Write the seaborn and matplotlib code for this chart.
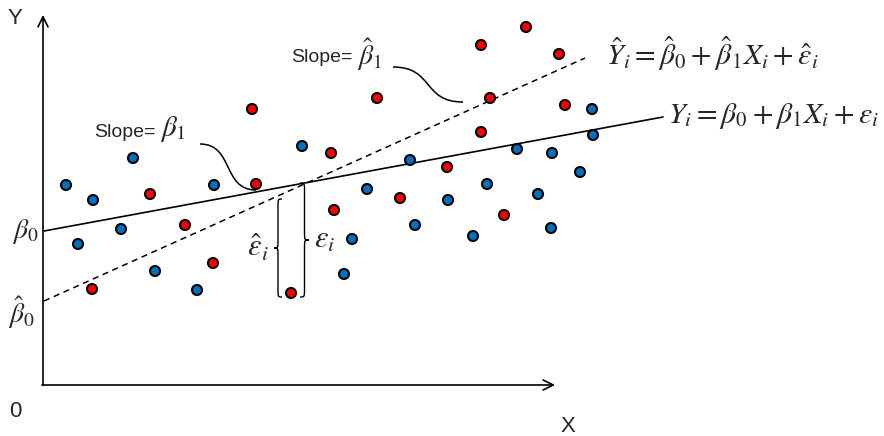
import numpy as np
import pandas as pd
import matplotlib
matplotlib.use("Agg")
import matplotlib.pyplot as plt
from matplotlib.path import Path
from matplotlib.patches import PathPatch
import seaborn as sns

# ---- data (diagram units: pixel-like, y grows downward) ----
blue_x = [66, 93, 133, 214, 78, 121, 155, 197, 302, 410, 367, 448, 487, 517,
          552, 580, 538, 592, 593, 352, 344, 415, 473, 551]
blue_y = [185, 200, 158, 185, 244, 229, 271, 290, 146, 160, 189, 200, 184, 149,
          153, 172, 194, 109, 135, 239, 274, 225, 236, 228]
red_x = [150, 256, 252, 185, 213, 92, 291, 331, 334, 377, 400, 447, 481, 490,
         481, 526, 559, 565, 504]
red_y = [194, 184, 109, 225, 263, 289, 293, 153, 210, 98, 198, 167, 132, 98,
         45, 27, 54, 105, 215]

true_line_x = [44, 663]
true_line_y = [231, 117]
fit_line_x = [44, 585]
fit_line_y = [301, 58]

axis_origin = (43, 385)
axis_x_end = 555
axis_y_end = 15

# ---- figure ----
sns.set_theme(style="white")
plt.rcParams['font.family'] = ['Liberation Sans', 'DejaVu Sans']
plt.rcParams['mathtext.fontset'] = 'stix'

fig = plt.figure(figsize=(8.84, 4.36), dpi=100)
ax = fig.add_axes([0, 0, 1, 1])
ax.set_xlim(0, 884)
ax.set_ylim(436, 0)
ax.axis('off')

# axes arrows
ax.annotate('', xy=(axis_x_end, axis_origin[1]), xytext=(axis_origin[0] - 1, axis_origin[1]),
            arrowprops=dict(arrowstyle='->', lw=1.2, color='black',
                            mutation_scale=18, shrinkA=0, shrinkB=0))
ax.annotate('', xy=(axis_origin[0], axis_y_end), xytext=(axis_origin[0], axis_origin[1] + 0.5),
            arrowprops=dict(arrowstyle='->', lw=1.2, color='black',
                            mutation_scale=18, shrinkA=0, shrinkB=0))

# regression lines
lines = pd.DataFrame({'x': true_line_x, 'y': true_line_y})
sns.lineplot(data=lines, x='x', y='y', ax=ax, color='black', lw=1.2)
fit = pd.DataFrame({'x': fit_line_x, 'y': fit_line_y})
sns.lineplot(data=fit, x='x', y='y', ax=ax, color='black', lw=1.1, linestyle=(0, (4, 3)))

# points
pts = pd.DataFrame({
    'x': blue_x + red_x,
    'y': blue_y + red_y,
    'group': ['blue'] * len(blue_x) + ['red'] * len(red_x),
})
sns.scatterplot(data=pts, x='x', y='y', hue='group', ax=ax,
                palette={'blue': '#0070C0', 'red': '#FF0000'},
                s=52, edgecolor='black', linewidth=1.5, legend=False, zorder=5)


def brace(x0, y0, y1, w, direction, r=8):
    xs = x0 + direction * w / 2
    xt = x0 + direction * w
    ym = (y0 + y1) / 2
    verts = [(x0, y0), (xs, y0), (xs, y0), (xs, y0 + r),
             (xs, ym - r),
             (xs, ym), (xs, ym), (xt, ym),
             (xs, ym), (xs, ym), (xs, ym + r),
             (xs, y1 - r),
             (xs, y1), (xs, y1), (x0, y1)]
    codes = [Path.MOVETO, Path.CURVE4, Path.CURVE4, Path.CURVE4,
             Path.LINETO,
             Path.CURVE4, Path.CURVE4, Path.CURVE4,
             Path.CURVE4, Path.CURVE4, Path.CURVE4,
             Path.LINETO,
             Path.CURVE4, Path.CURVE4, Path.CURVE4]
    ax.add_patch(PathPatch(Path(verts, codes), fill=False, lw=1.0, color='black', zorder=4))


brace(300, 183, 297, 9, +1)
brace(282, 199, 297, 8, -1)


def s_curve(p0, p1):
    (x0, y0), (x1, y1) = p0, p1
    xm = (x0 + x1) / 2
    verts = [(x0, y0), (xm + 6, y0), (xm - 6, y1), (x1, y1)]
    codes = [Path.MOVETO, Path.CURVE4, Path.CURVE4, Path.CURVE4]
    ax.add_patch(PathPatch(Path(verts, codes), fill=False, lw=1.1, color='black'))


s_curve((200, 144), (256, 190))
s_curve((393, 67), (463, 102))

# labels
ax.text(15, 18, 'Y', fontsize=16, ha='center', va='center')
ax.text(15, 411, '0', fontsize=16, ha='center', va='center')
ax.text(568, 426, 'X', fontsize=16, ha='center', va='center')

ax.text(94, 132, 'Slope=', fontsize=14, ha='left', va='center')
ax.text(160, 129, r'$\beta_1$', fontsize=21, ha='left', va='center')
ax.text(291, 57, 'Slope=', fontsize=14, ha='left', va='center')
ax.text(357, 55, r'$\hat{\beta}_\mathrm{1}$', fontsize=20, ha='left', va='center')

ax.text(12, 231, r'$\beta_0$', fontsize=20, ha='left', va='center')
ax.text(8, 313, r'$\hat{\beta}_\mathrm{0}$', fontsize=20, ha='left', va='center')

ax.text(314, 240, r'$\varepsilon_i$', fontsize=22, ha='left', va='center')
ax.text(269, 248, r'$\hat{\varepsilon}_i$', fontsize=22, ha='right', va='center')

ax.text(668, 116, r'$Y_i = \beta_0 + \beta_1 X_i + \varepsilon_i$', fontsize=21.5,
        ha='left', va='center')
ax.text(606, 54, r'$\hat{Y}_i = \hat{\beta}_0 + \hat{\beta}_1 X_i + \hat{\varepsilon}_i$',
        fontsize=21.5, ha='left', va='center')

fig.savefig('out.png', dpi=100)
